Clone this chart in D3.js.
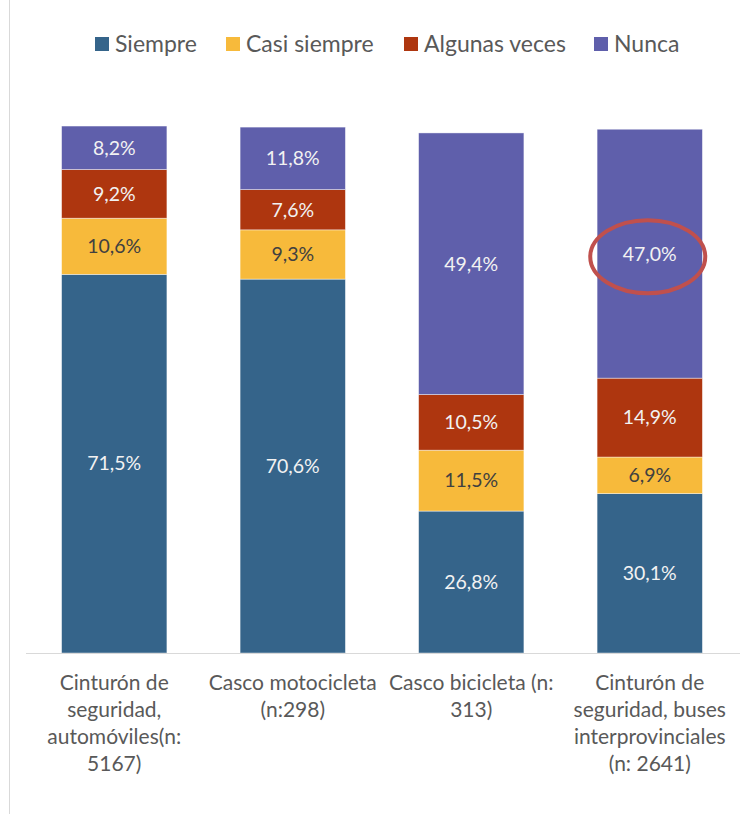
<!DOCTYPE html>
<html>
<head>
<meta charset="utf-8">
<script src="https://cdn.jsdelivr.net/npm/d3@7"></script>
<style>
  html, body { margin: 0; padding: 0; background: #fff; }
  svg { display: block; }
</style>
</head>
<body>
<svg id="chart" width="740" height="814"></svg>
<script>
// Categories (multi-line axis labels)
const categories = [
  "Cinturón de|seguridad,|automóviles(n:|5167)",
  "Casco motocicleta|(n:298)",
  "Casco bicicleta (n:|313)",
  "Cinturón de|seguridad, buses|interprovinciales|(n: 2641)"
];
const seriesNames = ["Siempre", "Casi siempre", "Algunas veces", "Nunca"];
const siempre      = [71.5, 70.6, 26.8, 30.1];
const casiSiempre  = [10.6, 9.3, 11.5, 6.9];
const algunasVeces = [9.2, 7.6, 10.5, 14.9];
const nunca        = [8.2, 11.8, 49.4, 47.0];
const colors = ["#35648A", "#F7BA3B", "#AE360F", "#5F5FAB"];
const labelColors = ["#F2F2F2", "#404040", "#F2F2F2", "#F2F2F2"];
const highlighted = { category: 3, series: 3 }; // circled value

const seriesValues = [siempre, casiSiempre, algunasVeces, nunca];
const rows = categories.map((c, i) => {
  const r = { cat: c };
  seriesNames.forEach((s, k) => r[s] = seriesValues[k][i]);
  return r;
});

const svg = d3.select("#chart");
const font = "Lato, 'Open Sans', sans-serif";

const x = d3.scaleBand().domain(categories).range([25, 739]).paddingInner(0.41).paddingOuter(0.205);
const y = d3.scaleLinear().domain([0, 100]).range([653, 123.4]);

const stack = d3.stack().keys(seriesNames);
const layers = stack(rows);

// frame line on the left
svg.append("line").attr("x1", 9.5).attr("x2", 9.5).attr("y1", 0).attr("y2", 814)
  .attr("stroke", "#d9d9d9").attr("stroke-width", 1);

// bars
const g = svg.append("g");
layers.forEach((layer, k) => {
  g.selectAll(null).data(layer).enter().append("rect")
    .attr("x", d => x(d.data.cat))
    .attr("width", x.bandwidth())
    .attr("y", d => y(d[1]))
    .attr("height", d => y(d[0]) - y(d[1]))
    .attr("fill", colors[k])
    .attr("stroke", "rgba(255,255,255,0.6)")
    .attr("stroke-width", 0.7);
});

// baseline
svg.append("line").attr("x1", 26).attr("x2", 740).attr("y1", 653.5).attr("y2", 653.5)
  .attr("stroke", "#d9d9d9").attr("stroke-width", 1);

// data labels
const fmt = v => v.toFixed(1).replace(".", ",") + "%";
layers.forEach((layer, k) => {
  g.selectAll(null).data(layer).enter().append("text")
    .attr("x", d => x(d.data.cat) + x.bandwidth() / 2)
    .attr("y", d => (y(d[0]) + y(d[1])) / 2)
    .attr("dy", "0.35em")
    .attr("text-anchor", "middle")
    .attr("font-family", font)
    .attr("font-size", 19.5)
    .attr("fill", labelColors[k])
    .text(d => fmt(d.data[seriesNames[k]]));
});

// highlight ellipse around the chosen value
{
  const d = layers[highlighted.series][highlighted.category];
  const cx = x(d.data.cat) + x.bandwidth() / 2;
  const cy = (y(d[0]) + y(d[1])) / 2 + 3;
  svg.append("ellipse").attr("cx", cx - 2).attr("cy", cy)
    .attr("rx", 57.5).attr("ry", 36.5)
    .attr("fill", "none").attr("stroke", "#C0504D").attr("stroke-width", 4);
}

// category labels
categories.forEach(c => {
  const t = svg.append("text")
    .attr("text-anchor", "middle")
    .attr("font-family", font)
    .attr("font-size", 21)
    .attr("fill", "#595959");
  c.split("|").forEach((line, i) => {
    t.append("tspan").attr("x", x(c) + x.bandwidth() / 2)
      .attr("y", 690 + i * 27).text(line);
  });
});

// legend
const legendX = [95, 226, 404, 594];
const lg = svg.append("g");
seriesNames.forEach((s, k) => {
  lg.append("rect").attr("x", legendX[k]).attr("y", 37).attr("width", 14).attr("height", 14)
    .attr("fill", colors[k]);
  lg.append("text").attr("x", legendX[k] + 20).attr("y", 51.5)
    .attr("font-family", font).attr("font-size", 23).attr("fill", "#595959").text(s);
});
</script>
</body>
</html>
